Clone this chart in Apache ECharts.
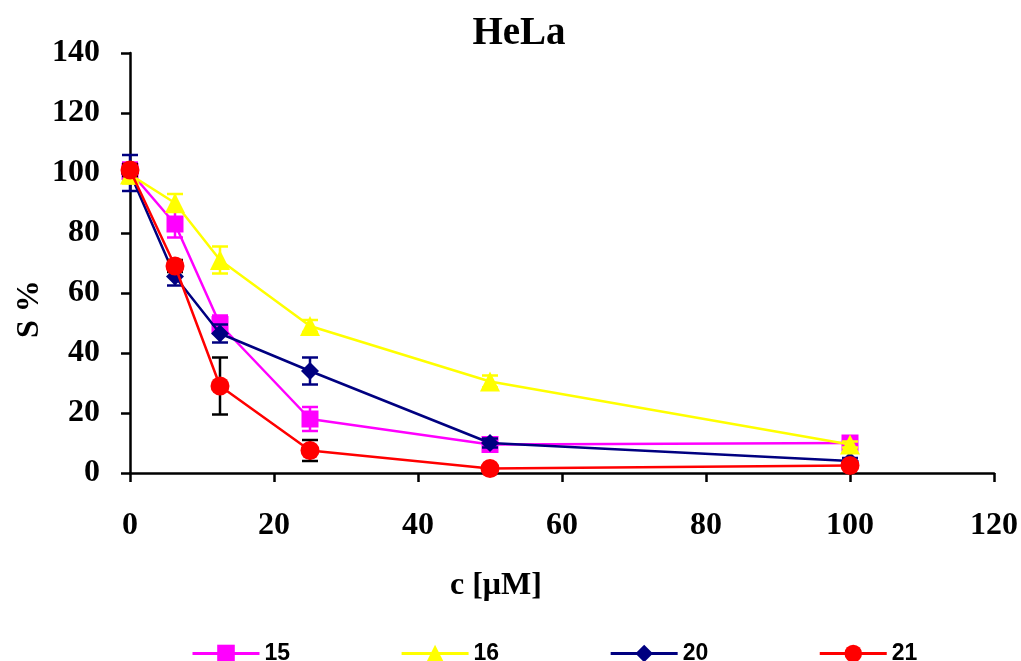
<!DOCTYPE html>
<html>
<head>
<meta charset="utf-8">
<script src="https://cdn.jsdelivr.net/npm/echarts@6/dist/echarts.min.js"></script>
<style>
  html, body { margin: 0; padding: 0; background: #fff; }
  #chart { width: 1021px; height: 661px; }
</style>
</head>
<body>
<div id="chart"></div>
<script>
// concentrations (µM)
const conc = [0, 6.25, 12.5, 25, 50, 100];

// survival S % for each compound
const s15 = [100.5, 83, 49.5, 18, 9.5, 10];
const s16 = [99.5, 90, 71, 49, 30.5, 9.5];
const s20 = [100, 65.5, 46.5, 34, 10, 4];
const s21 = [101, 69, 29, 7.5, 1.5, 2.5];

// error bars (+/-)
const e15 = [3, 4.5, 3, 4, 2, 1.5];
const e16 = [3, 3, 4.5, 2, 2, 1];
const e20 = [6, 3, 3, 4.5, 1.5, 1];
const e21 = [2, 2, 9.5, 3.5, 1, 1];

const names = ["15", "16", "20", "21"];

const serif = "'Liberation Serif', 'Times New Roman', serif";

function pts(ys) {
  return conc.map((x, i) => [x, ys[i]]);
}
function errPts(ys, es) {
  return conc.map((x, i) => [x, ys[i], es[i]]);
}

function errorSeries(ys, es, color, z) {
  return {
    type: "custom",
    z: z,
    silent: true,
    data: errPts(ys, es),
    encode: { x: 0, y: 1 },
    renderItem: function (params, api) {
      const x = api.value(0);
      const y = api.value(1);
      const e = api.value(2);
      const top = api.coord([x, y + e]);
      const bot = api.coord([x, y - e]);
      const w = 8;
      const st = { stroke: color, lineWidth: 2.5 };
      return {
        type: "group",
        children: [
          { type: "line", shape: { x1: top[0], y1: top[1], x2: bot[0], y2: bot[1] }, style: st },
          { type: "line", shape: { x1: top[0] - w, y1: top[1], x2: top[0] + w, y2: top[1] }, style: st },
          { type: "line", shape: { x1: bot[0] - w, y1: bot[1], x2: bot[0] + w, y2: bot[1] }, style: st }
        ]
      };
    }
  };
}

function lineSeries(name, ys, color, symbol, size, z) {
  return {
    name: name,
    type: "line",
    z: z,
    data: pts(ys),
    symbol: symbol,
    symbolSize: size,
    showAllSymbol: true,
    lineStyle: { color: color, width: 2.5 },
    itemStyle: { color: color, opacity: 1 },
    animation: false
  };
}

const myChart = echarts.init(document.getElementById("chart"));
const option = {
  animation: false,
  backgroundColor: "#fff",
  title: {
    text: "HeLa",
    left: 514,
    top: 9,
    textAlign: "center",
    textStyle: { fontFamily: serif, fontWeight: "bold", fontSize: 39, color: "#000" }
  },
  grid: { left: 130, right: 27, top: 53, bottom: 188 },
  xAxis: {
    type: "value",
    min: 0,
    max: 120,
    interval: 20,
    splitLine: { show: false },
    axisLine: { onZero: false, lineStyle: { color: "#000", width: 2.5 } },
    axisTick: { show: true, length: 9, lineStyle: { color: "#000", width: 2.5 } },
    axisLabel: { margin: 37, color: "#000", fontFamily: serif, fontWeight: "bold", fontSize: 32 }
  },
  yAxis: {
    type: "value",
    min: 0,
    max: 140,
    interval: 20,
    splitLine: { show: false },
    axisLine: { show: true, lineStyle: { color: "#000", width: 2.5 } },
    axisTick: { show: true, length: 9, lineStyle: { color: "#000", width: 2.5 } },
    axisLabel: { margin: 30, color: "#000", fontFamily: serif, fontWeight: "bold", fontSize: 32 }
  },
  legend: {
    data: names,
    left: 186,
    top: 637,
    itemWidth: 67,
    itemHeight: 22,
    itemGap: 110,
    lineStyle: { width: 3 },
    textStyle: {
      fontFamily: "'Liberation Sans', Arial, sans-serif",
      fontWeight: "bold",
      fontSize: 23,
      color: "#000"
    }
  },
  graphic: [
    {
      type: "text",
      left: 450,
      top: 570,
      style: { text: "c [\u03bcM]", font: "bold 32px " + serif, fill: "#000" }
    },
    {
      type: "text",
      x: 14,
      y: 338,
      rotation: Math.PI / 2,
      style: { text: "S %", font: "bold 32px " + serif, fill: "#000" }
    }
  ],
  series: [
    errorSeries(s15, e15, "#ff00ff", 2),
    errorSeries(s20, e20, "#000080", 3),
    errorSeries(s16, e16, "#ffff00", 4),
    errorSeries(s21, e21, "#000000", 5),
    lineSeries("15", s15, "#ff00ff", "rect", 17, 2),
    lineSeries("16", s16, "#ffff00", "triangle", 20, 4),
    lineSeries("20", s20, "#000080", "diamond", 18, 3),
    lineSeries("21", s21, "#ff0000", "circle", 19, 5)
  ]
};
myChart.setOption(option);
</script>
</body>
</html>
